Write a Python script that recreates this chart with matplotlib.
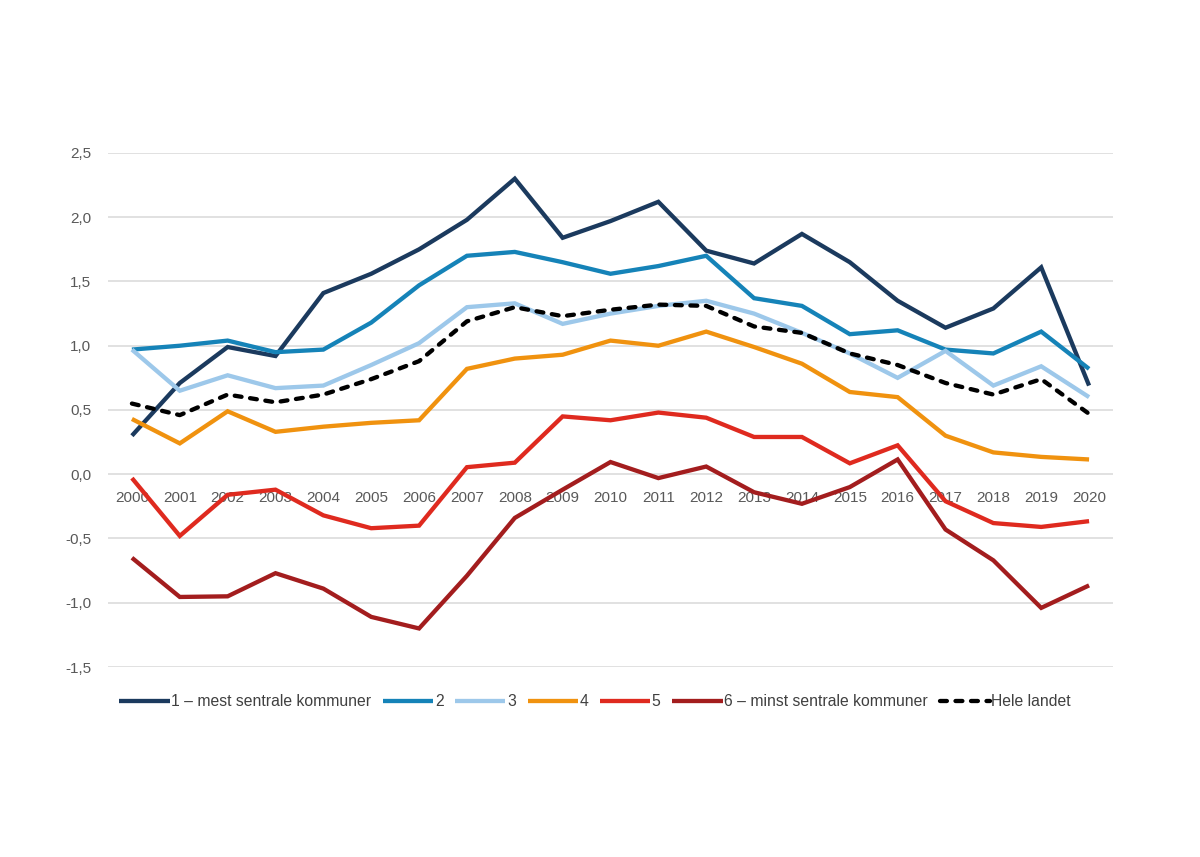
import matplotlib
matplotlib.use("Agg")
import matplotlib.pyplot as plt
from matplotlib.ticker import FuncFormatter, MultipleLocator

years = list(range(2000, 2021))

s1 = [0.30, 0.71, 0.99, 0.92, 1.41, 1.56, 1.75, 1.98, 2.30, 1.84, 1.97, 2.12, 1.74, 1.64, 1.87, 1.65, 1.35, 1.14, 1.29, 1.61, 0.69]
s2 = [0.97, 1.00, 1.04, 0.95, 0.97, 1.18, 1.47, 1.70, 1.73, 1.65, 1.56, 1.62, 1.70, 1.37, 1.31, 1.09, 1.12, 0.97, 0.94, 1.11, 0.82]
s3 = [0.97, 0.65, 0.77, 0.67, 0.69, 0.85, 1.02, 1.30, 1.33, 1.17, 1.25, 1.31, 1.35, 1.25, 1.10, 0.94, 0.75, 0.96, 0.69, 0.84, 0.60]
s4 = [0.43, 0.24, 0.49, 0.33, 0.37, 0.40, 0.42, 0.82, 0.90, 0.93, 1.04, 1.00, 1.11, 0.99, 0.86, 0.64, 0.60, 0.30, 0.17, 0.135, 0.115]
s5 = [-0.03, -0.48, -0.16, -0.12, -0.32, -0.42, -0.40, 0.055, 0.09, 0.45, 0.42, 0.48, 0.44, 0.29, 0.29, 0.085, 0.225, -0.21, -0.38, -0.41, -0.365]
s6 = [-0.65, -0.955, -0.95, -0.77, -0.89, -1.11, -1.20, -0.79, -0.34, -0.12, 0.095, -0.03, 0.06, -0.14, -0.23, -0.10, 0.115, -0.43, -0.67, -1.04, -0.865]
hele = [0.55, 0.46, 0.62, 0.56, 0.62, 0.74, 0.88, 1.19, 1.30, 1.23, 1.28, 1.32, 1.31, 1.15, 1.10, 0.94, 0.85, 0.71, 0.62, 0.74, 0.47]

labels = ["1 \u2013 mest sentrale kommuner", "2", "3", "4", "5",
          "6 \u2013 minst sentrale kommuner", "Hele landet"]
colors = ["#1B3A5E", "#1583B8", "#9DC8EA", "#F0920F", "#DF2A1F", "#A31D1E", "#000000"]

plt.rcParams['font.family'] = ['Liberation Sans', 'DejaVu Sans']

fig = plt.figure(figsize=(12, 8.57), dpi=100)
ax = fig.add_axes([0.09, 0.2217, 0.8375, 0.5998])

x = list(range(len(years)))
series = [s1, s2, s3, s4, s5, s6]
for ys, lab, col in zip(series, labels[:6], colors[:6]):
    ax.plot(x, ys, color=col, lw=3.1, label=lab, solid_capstyle='butt', solid_joinstyle='miter', zorder=3)
ax.plot(x, hele, color=colors[6], lw=3.1, label=labels[6], linestyle=(0, (1.6, 2.0)),
        dash_capstyle='round', zorder=4)

ax.set_xlim(-0.5, len(years) - 0.5)
ax.set_ylim(-1.5, 2.5)
ax.yaxis.set_major_locator(MultipleLocator(0.5))
ax.yaxis.set_major_formatter(FuncFormatter(lambda v, p: f"{v:.1f}".replace('.', ',').replace('-0,0', '0,0')))
ax.set_xticks(x)
ax.set_xticklabels([str(y) for y in years])

ax.grid(axis='y', color='#D9D9D9', lw=1.1, zorder=0)
ax.set_axisbelow(True)
for s in ax.spines.values():
    s.set_visible(False)
ax.spines['bottom'].set_position(('data', 0))
ax.tick_params(axis='both', length=0, labelsize=11, labelcolor='#595959')
ax.tick_params(axis='x', pad=12)
ax.tick_params(axis='y', pad=12)

leg = fig.legend(loc='center', bbox_to_anchor=(0.496, 0.181), ncol=7, frameon=False,
                 fontsize=11.3, handlelength=3.2, columnspacing=0.75, handletextpad=0.1,
                 labelcolor='#404040')

fig.savefig("out.png", dpi=100, facecolor='white')
